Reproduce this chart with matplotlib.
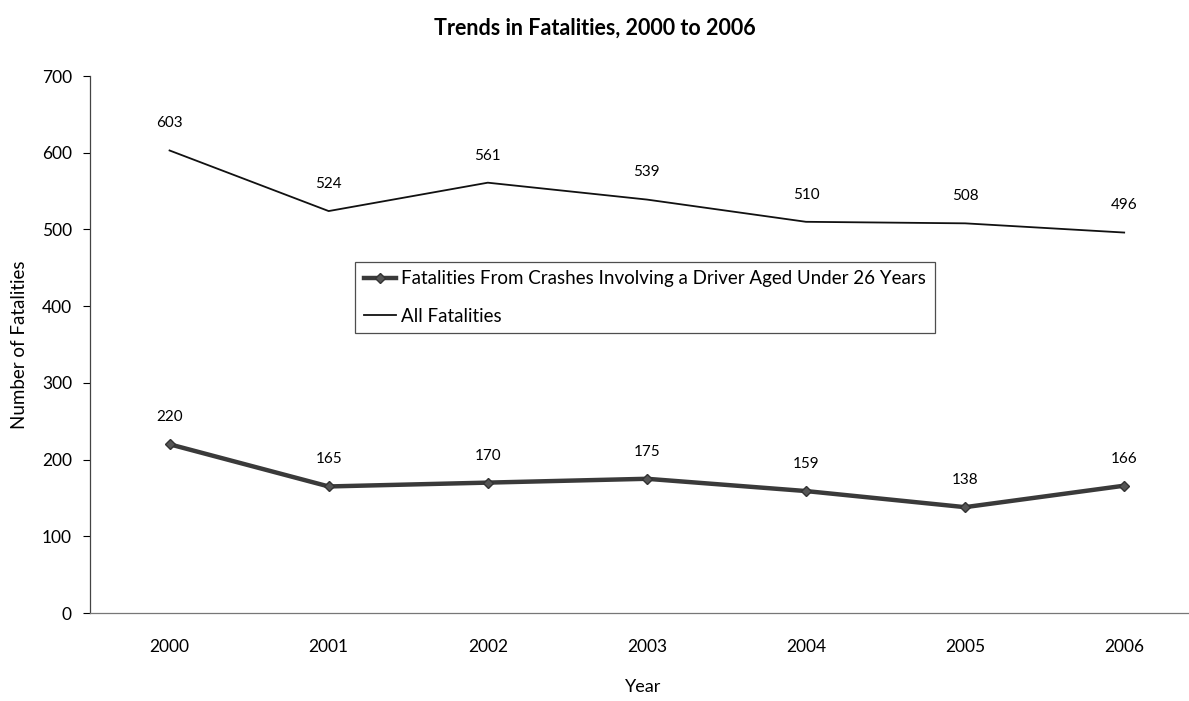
import matplotlib
matplotlib.use("Agg")
import matplotlib.pyplot as plt

years = ["2000", "2001", "2002", "2003", "2004", "2005", "2006"]
all_fatalities = [603, 524, 561, 539, 510, 508, 496]
under26_fatalities = [220, 165, 170, 175, 159, 138, 166]
y_ticks = [0, 100, 200, 300, 400, 500, 600, 700]

plt.rcParams["font.family"] = ["Lato", "DejaVu Sans"]

fig = plt.figure(figsize=(11.89, 7.01), dpi=100)
ax = fig.add_axes([0.0757, 0.1255, 0.93, 0.766])

x = list(range(len(years)))
ax.plot(x, under26_fatalities, color="#3a3a3a", lw=3.2, marker="D", ms=5,
        mfc="#555555", mec="#333333",
        label="Fatalities From Crashes Involving a Driver Aged Under 26 Years")
ax.plot(x, all_fatalities, color="#111111", lw=1.3, label="All Fatalities")

for xi, v in zip(x, all_fatalities):
    ax.annotate(str(v), (xi, v), xytext=(0, 19.5), textcoords="offset points",
                ha="center", va="center", fontsize=11)
for xi, v in zip(x, under26_fatalities):
    ax.annotate(str(v), (xi, v), xytext=(0, 19.5), textcoords="offset points",
                ha="center", va="center", fontsize=11)

ax.set_xlim(-0.5, 6.45)
ax.set_ylim(0, 700)
ax.set_yticks(y_ticks)
ax.set_xticks(x)
ax.set_xticklabels(years)
ax.tick_params(axis="y", length=5, width=0.8, labelsize=12.5, pad=8)
ax.tick_params(axis="x", length=0, labelsize=12.5, pad=19)
for s in ("top", "right"):
    ax.spines[s].set_visible(False)
ax.spines["left"].set_color("#444444")
ax.spines["bottom"].set_color("#777777")
ax.spines["left"].set_linewidth(0.9)
ax.spines["bottom"].set_linewidth(0.9)

ax.set_ylabel("Number of Fatalities", fontsize=13.5, labelpad=10)
ax.set_xlabel("Year", fontsize=13, labelpad=17)
fig.suptitle("Trends in Fatalities, 2000 to 2006", fontsize=15.5, fontweight="bold",
             y=0.975)

leg = ax.legend(loc="upper left", bbox_to_anchor=(0.24, 0.654), frameon=True,
                fancybox=False, edgecolor="#222222", fontsize=13.5,
                handlelength=1.7, handletextpad=0.3, borderpad=0.45,
                labelspacing=1.1, borderaxespad=0)
leg.get_frame().set_linewidth(0.9)

fig.savefig("out.png", dpi=100)
